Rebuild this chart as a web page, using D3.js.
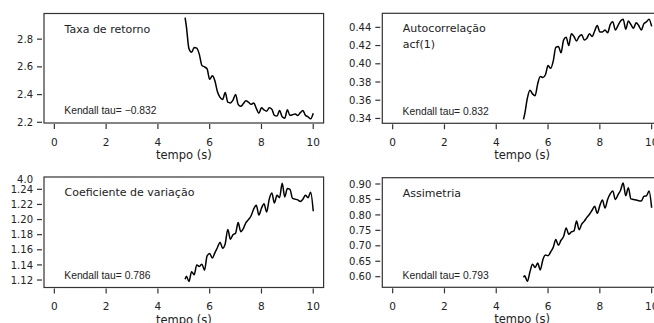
<!DOCTYPE html>
<html>
<head>
<meta charset="utf-8">
<script src="https://cdn.jsdelivr.net/npm/d3@7"></script>
<style>
  body { margin: 0; background: #fff; }
</style>
</head>
<body>
<div id="chart"></div>
<script>
// Tempo (s) das amostras
var tempo = [5.05, 5.1, 5.2, 5.3, 5.4, 5.5, 5.6, 5.7, 5.8, 5.9,
  6.0, 6.1, 6.2, 6.3, 6.4, 6.5, 6.6, 6.7, 6.8, 6.9,
  7.0, 7.1, 7.2, 7.3, 7.4, 7.5, 7.6, 7.7, 7.8, 7.9,
  8.0, 8.1, 8.2, 8.3, 8.4, 8.5, 8.6, 8.7, 8.8, 8.9,
  9.0, 9.1, 9.2, 9.3, 9.4, 9.5, 9.6, 9.7, 9.8, 9.9, 10.0];

var taxaRetorno = [2.955, 2.890, 2.730, 2.705, 2.740, 2.735, 2.690, 2.610, 2.600, 2.585,
  2.510, 2.535, 2.500, 2.420, 2.380, 2.365, 2.415, 2.345, 2.340, 2.360,
  2.400, 2.330, 2.315, 2.335, 2.355, 2.345, 2.330, 2.340, 2.300, 2.265,
  2.305, 2.290, 2.280, 2.305, 2.295, 2.250, 2.245, 2.285, 2.240, 2.230,
  2.290, 2.250, 2.255, 2.260, 2.250, 2.270, 2.285, 2.250, 2.240, 2.225, 2.265];

var autocorrelacao = [0.339, 0.345, 0.362, 0.371, 0.367, 0.365, 0.378, 0.386, 0.385, 0.388,
  0.398, 0.395, 0.403, 0.418, 0.419, 0.412, 0.426, 0.429, 0.420, 0.433,
  0.430, 0.425, 0.430, 0.432, 0.426, 0.428, 0.433, 0.430, 0.436, 0.442,
  0.435, 0.435, 0.437, 0.434, 0.443, 0.446, 0.437, 0.442, 0.447, 0.449,
  0.438, 0.447, 0.443, 0.439, 0.445, 0.442, 0.437, 0.444, 0.446, 0.449, 0.441];

var coefVariacao = [1.121, 1.125, 1.118, 1.131, 1.127, 1.140, 1.138, 1.141, 1.133, 1.152,
  1.155, 1.149, 1.156, 1.163, 1.170, 1.162, 1.168, 1.187, 1.174, 1.180,
  1.182, 1.196, 1.184, 1.188, 1.196, 1.200, 1.205, 1.214, 1.219, 1.206,
  1.215, 1.221, 1.210, 1.227, 1.235, 1.222, 1.232, 1.229, 1.248, 1.230,
  1.241, 1.240, 1.228, 1.227, 1.226, 1.224, 1.227, 1.232, 1.229, 1.236, 1.211];

var assimetria = [0.598, 0.603, 0.585, 0.615, 0.640, 0.630, 0.644, 0.622, 0.655, 0.670,
  0.668, 0.680, 0.695, 0.720, 0.702, 0.718, 0.730, 0.758, 0.737, 0.745,
  0.748, 0.780, 0.752, 0.770, 0.780, 0.792, 0.802, 0.815, 0.828, 0.805,
  0.830, 0.848, 0.822, 0.850, 0.868, 0.877, 0.850, 0.865, 0.880, 0.903,
  0.862, 0.888, 0.852, 0.850, 0.848, 0.846, 0.845, 0.860, 0.862, 0.877, 0.823];

// Eixos
var xTicks = [0, 2, 4, 6, 8, 10];
var taxaTicks = [2.2, 2.4, 2.6, 2.8];
var acfTicks = [0.34, 0.36, 0.38, 0.40, 0.42, 0.44];
var cvTicks = [1.12, 1.14, 1.16, 1.18, 1.20, 1.22, 1.24];
var assimTicks = [0.60, 0.65, 0.70, 0.75, 0.80, 0.85, 0.90];
var cvTopLabel = "4.0";

var titulos = [["Taxa de retorno"], ["Autocorrelação", "acf(1)"], ["Coeficiente de variação"], ["Assimetria"]];
var kendall = ["Kendall tau= \u22120.832", "Kendall tau= 0.832", "Kendall tau= 0.786", "Kendall tau= 0.793"];
var xLabel = "tempo (s)";

// Paineis (posicoes em pixels)
var panels = [
  {values: taxaRetorno, ticks: taxaTicks, fmt: ".1f", yDom: [2.195, 2.985], left: 44, right: 323.6, top: 13.5, bottom: 123},
  {values: autocorrelacao, ticks: acfTicks, fmt: ".2f", yDom: [0.3347, 0.4554], left: 382.3, right: 662, top: 13.3, bottom: 123.3},
  {values: coefVariacao, ticks: cvTicks, fmt: ".2f", yDom: [1.1101, 1.2563], left: 44, right: 323.6, top: 177, bottom: 287.5},
  {values: assimetria, ticks: assimTicks, fmt: ".2f", yDom: [0.5657, 0.9204], left: 382.3, right: 662, top: 177.7, bottom: 287.3}
];

var svg = d3.select("#chart")
  .append("svg")
  .attr("width", 654)
  .attr("height", 323)
  .style("display", "block");

panels.forEach(function(p, i) {
  var x = d3.scaleLinear().domain([-0.4, 10.4]).range([p.left, p.right]);
  var y = d3.scaleLinear().domain(p.yDom).range([p.bottom, p.top]);

  var g = svg.append("g");

  // caixa
  g.append("rect")
    .attr("x", p.left)
    .attr("y", p.top)
    .attr("width", p.right - p.left)
    .attr("height", p.bottom - p.top)
    .attr("fill", "none")
    .attr("stroke", "#333")
    .attr("stroke-width", 1.2);

  // eixo x
  g.selectAll(".xtick")
    .data(xTicks)
    .enter()
    .append("line")
    .attr("x1", function(d) { return x(d); })
    .attr("x2", function(d) { return x(d); })
    .attr("y1", p.bottom + 1)
    .attr("y2", p.bottom + 6)
    .attr("stroke", "#333")
    .attr("stroke-width", 1.2);

  g.selectAll(".xlab")
    .data(xTicks)
    .enter()
    .append("text")
    .attr("x", function(d) { return x(d); })
    .attr("y", p.bottom + 22.5)
    .attr("text-anchor", "middle")
    .style("font-family", "DejaVu Sans")
    .style("font-size", "10.5px")
    .attr("fill", "#222")
    .text(function(d) { return d; });

  g.append("text")
    .attr("x", x(5))
    .attr("y", p.bottom + 36)
    .attr("text-anchor", "middle")
    .style("font-family", "DejaVu Sans")
    .style("font-size", "11.5px")
    .attr("fill", "#222")
    .text(xLabel);

  // eixo y
  g.selectAll(".ytick")
    .data(p.ticks)
    .enter()
    .append("line")
    .attr("x1", p.left - 7)
    .attr("x2", p.left - 2)
    .attr("y1", function(d) { return y(d); })
    .attr("y2", function(d) { return y(d); })
    .attr("stroke", "#333")
    .attr("stroke-width", 1.2);

  g.selectAll(".ylab")
    .data(p.ticks)
    .enter()
    .append("text")
    .attr("x", p.left - 11)
    .attr("y", function(d) { return y(d); })
    .attr("dy", "0.36em")
    .attr("text-anchor", "end")
    .style("font-family", "DejaVu Sans")
    .style("font-size", "10px")
    .attr("fill", "#222")
    .text(function(d) { return d3.format(p.fmt)(d); });

  if (i === 2) {
    g.append("text")
      .attr("x", p.left - 11)
      .attr("y", p.top + 2)
      .attr("dy", "0.36em")
      .attr("text-anchor", "end")
      .style("font-family", "DejaVu Sans")
      .style("font-size", "10px")
      .attr("fill", "#222")
      .text(cvTopLabel);
  }

  // serie
  var line = d3.line()
    .x(function(d, k) { return x(tempo[k]); })
    .y(function(d) { return y(d); })
    .curve(d3.curveMonotoneX);

  g.append("path")
    .datum(p.values)
    .attr("d", line)
    .attr("fill", "none")
    .attr("stroke", "#000")
    .attr("stroke-width", 1.5);

  // titulo
  titulos[i].forEach(function(t, k) {
    g.append("text")
      .attr("x", p.left + 20.5)
      .attr("y", p.top + 19 + k * 16)
      .style("font-family", "DejaVu Sans")
      .style("font-size", "11px")
      .attr("fill", "#222")
      .text(t);
  });

  g.append("text")
    .attr("x", p.left + 20.3)
    .attr("y", p.bottom - 8.7)
    .style("font-family", "Liberation Sans")
    .style("font-size", "10.3px")
    .attr("fill", "#222")
    .text(kendall[i]);
});
</script>
</body>
</html>
